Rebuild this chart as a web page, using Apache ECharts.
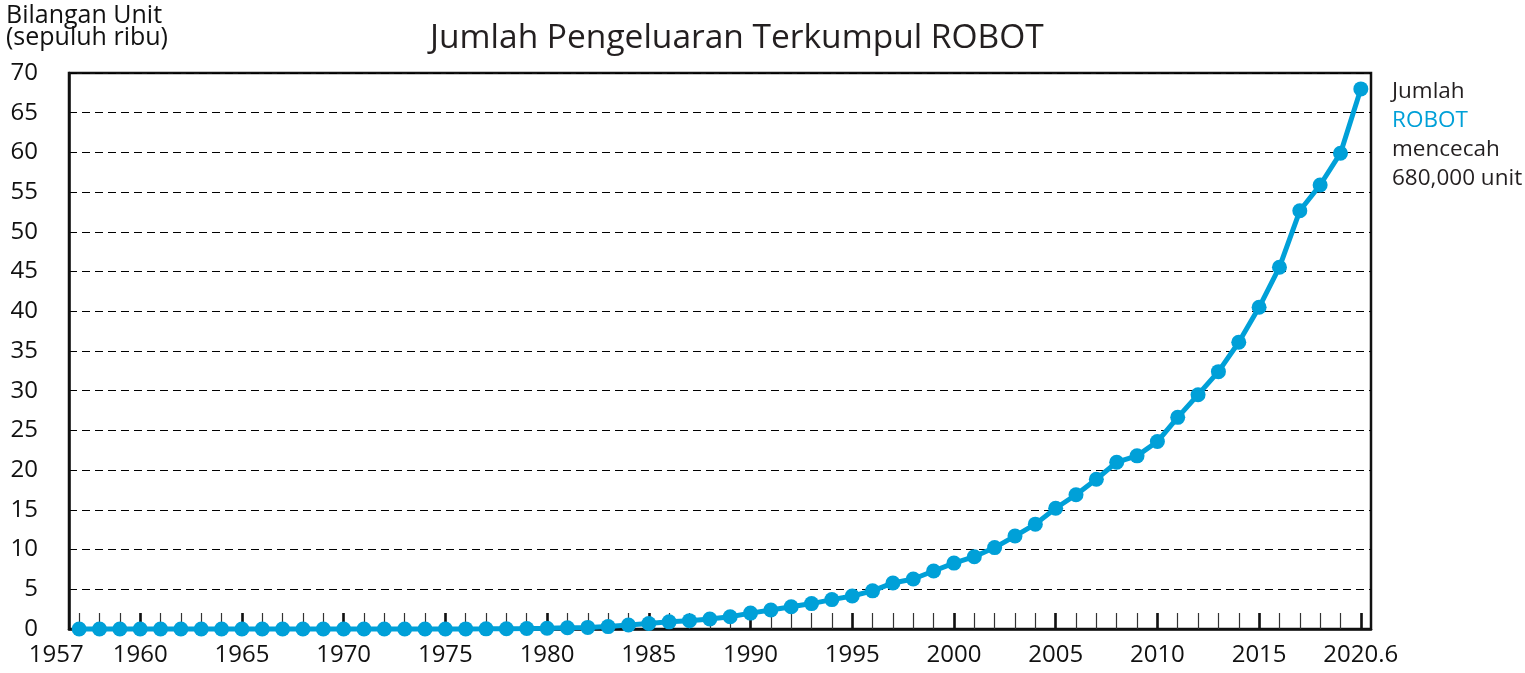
<!DOCTYPE html>
<html>
<head>
<meta charset="utf-8">
<script src="https://cdn.jsdelivr.net/npm/echarts@6/dist/echarts.min.js"></script>
<style>html,body{margin:0;padding:0;background:#fff;}#c{width:1525px;height:673px;}</style>
</head>
<body>
<div id="c"></div>
<script>
var years = [];
for (var y = 1957; y <= 2020; y++) years.push(String(y));
var units = [
  0, 0, 0, 0, 0, 0, 0, 0, 0, 0, 0, 0, 0, 0, 0, 0, 0, 0, 0, 0.01, 0.02, 0.04, 0.06,
  0.1, 0.15, 0.2, 0.3, 0.5, 0.7, 0.9, 1.05, 1.25, 1.55,
  2.0, 2.4, 2.8, 3.2, 3.7, 4.15, 4.8, 5.8, 6.3, 7.3,
  8.3, 9.1, 10.25, 11.7, 13.2, 15.2, 16.9, 18.85, 21.0, 21.8,
  23.6, 26.65, 29.5, 32.4, 36.1, 40.5, 45.55, 52.65, 55.9, 59.9, 68.0
];
var xLabelMap = {'1957':'1957','1960':'1960','1965':'1965','1970':'1970','1975':'1975','1980':'1980','1985':'1985','1990':'1990','1995':'1995','2000':'2000','2005':'2005','2010':'2010','2015':'2015','2020':'2020.6'};
var titleText = 'Jumlah Pengeluaran Terkumpul ROBOT';
var yName = 'Bilangan Unit\n(sepuluh ribu)';
var noteLines = ['Jumlah', 'ROBOT', 'mencecah', '680,000 unit'];

var FONT = '"Open Sans", "Noto Sans", sans-serif';
var BLUE = '#00a0d8';
var chart = echarts.init(document.getElementById('c'));
function isMajor(v){ return v === '2020' || (+v) % 5 === 0; }
chart.setOption({
  animation: false,
  backgroundColor: '#fff',
  textStyle: { fontFamily: FONT },
  title: {
    text: titleText, left: 425, top: 16,
    textStyle: { fontFamily: FONT, fontSize: 33.5, fontWeight: 'normal', color: '#231f20' }
  },
  grid: { left: 69, right: 154, top: 73, bottom: 44, show: true, borderColor: '#111', borderWidth: 2.5, containLabel: false, outerBoundsMode: 'none' },
  xAxis: [{
    type: 'category', data: years, boundaryGap: true,
    axisLine: { show: true, lineStyle: { color: '#111', width: 2.5 } },
    axisTick: { show: true, inside: true, length: 16, alignWithLabel: true, interval: 0, lineStyle: { color: '#333', width: 1.2 } },
    axisLabel: {
      interval: function (i, v) { return xLabelMap.hasOwnProperty(v); },
      margin: 14, fontSize: 24, color: '#111', fontFamily: FONT,
      formatter: function (v) {
        if (v === '1957') return '{s|' + xLabelMap[v] + '}';
        return xLabelMap[v] || '';
      },
      rich: { s: { fontSize: 24, color: '#111', fontFamily: FONT, padding: [0, 46, 0, 0] } }
    },
    splitLine: { show: false }
  }, {
    type: 'category', data: years, boundaryGap: true, position: 'bottom',
    axisLine: { show: false },
    axisTick: { show: true, inside: true, length: 16, alignWithLabel: true,
      interval: function (i, v) { return isMajor(v); }, lineStyle: { color: '#111', width: 2.6 } },
    axisLabel: { show: false },
    splitLine: { show: false }
  }],
  yAxis: {
    type: 'value', min: 0, max: 70, interval: 5,
    name: yName, nameLocation: 'end', nameGap: 0,
    nameTextStyle: { fontSize: 25, color: '#111', fontFamily: FONT, align: 'left', verticalAlign: 'bottom', lineHeight: 22, padding: [0, 0, 12, -63] },
    axisLine: { show: true, lineStyle: { color: '#111', width: 2.5 } },
    axisTick: { show: false },
    axisLabel: { fontSize: 24, color: '#111', margin: 31, fontFamily: FONT, padding: [0, 0, 5, 0] },
    splitLine: { show: true, lineStyle: { color: '#000', width: 1, type: [8, 5] } }
  },
  series: [{
    type: 'line', data: units, xAxisIndex: 0,
    symbol: 'circle', symbolSize: 15, showSymbol: true, showAllSymbol: true,
    lineStyle: { color: BLUE, width: 5 },
    itemStyle: { color: BLUE },
    clip: false, z: 5
  }],
  graphic: [{
    type: 'text', left: 1392, top: 80,
    style: {
      text: '{k|' + noteLines[0] + '}\n{b|' + noteLines[1] + '}\n{k|' + noteLines[2] + '}\n{k|' + noteLines[3] + '}',
      rich: {
        k: { fontSize: 22.5, fill: '#231f20', lineHeight: 29, fontFamily: FONT },
        b: { fontSize: 22.5, fill: BLUE, lineHeight: 29, fontFamily: FONT }
      }
    }
  }]
});
</script>
</body>
</html>
